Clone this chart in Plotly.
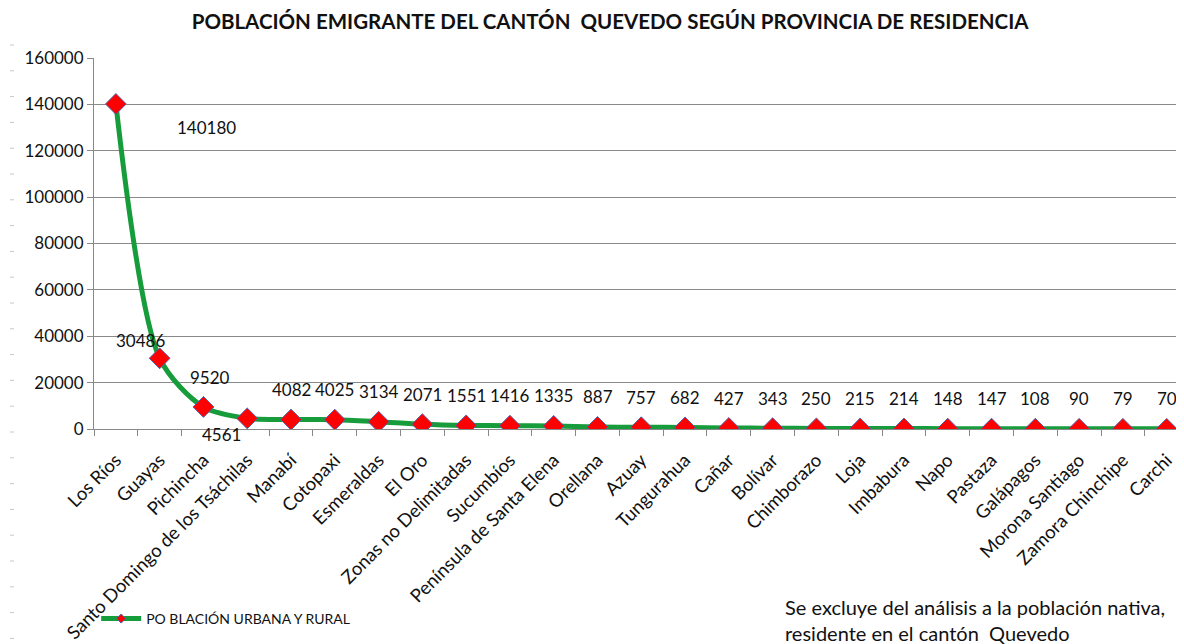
import plotly.graph_objects as go

provincias = ["Los Ríos", "Guayas", "Pichincha", "Santo Domingo de los Tsáchilas", "Manabí",
              "Cotopaxi", "Esmeraldas", "El Oro", "Zonas no Delimitadas", "Sucumbíos",
              "Península de Santa Elena", "Orellana", "Azuay", "Tungurahua", "Cañar",
              "Bolívar", "Chimborazo", "Loja", "Imbabura", "Napo", "Pastaza",
              "Galápagos", "Morona Santiago", "Zamora Chinchipe", "Carchi"]
poblacion = [140180, 30486, 9520, 4561, 4082, 4025, 3134, 2071, 1551, 1416, 1335, 887, 757,
             682, 427, 343, 250, 215, 214, 148, 147, 108, 90, 79, 70]
y_ticks = [0, 20000, 40000, 60000, 80000, 100000, 120000, 140000, 160000]

FONT = "Lato"
GREEN = "#169c3a"

fig = go.Figure()
fig.add_trace(go.Scatter(
    x=provincias, y=poblacion, mode="lines+markers", showlegend=False,
    line=dict(color=GREEN, width=5, shape="spline", smoothing=0.8),
    marker=dict(symbol="diamond", size=16, color="#ff0000",
                line=dict(color="#5060a8", width=1)),
))
# legend entry (smaller marker like the original legend key)
fig.add_trace(go.Scatter(
    x=[None], y=[None], mode="lines+markers", name="PO BLACIÓN URBANA Y RURAL",
    line=dict(color=GREEN, width=5),
    marker=dict(symbol="diamond", size=7, color="#ff0000",
                line=dict(color="#5060a8", width=1)),
))

# data labels (Excel-style offsets)
offsets = {0: (91, -24), 1: (-19, 18), 2: (7, 29), 3: (-26, -16)}
for i, (p, v) in enumerate(zip(provincias, poblacion)):
    dx, dy = offsets.get(i, (0, 30))
    fig.add_annotation(x=p, y=v, text=str(v), showarrow=False,
                       xshift=dx, yshift=dy, xanchor="center", yanchor="middle",
                       font=dict(family=FONT, size=17, color="#111"))

fig.add_annotation(xref="paper", yref="paper", x=0.633, y=-0.5146,
                   xanchor="left", yanchor="middle", align="left", showarrow=False,
                   text="Se excluye del análisis a la población nativa,<br>residente en el cantón  Quevedo",
                   font=dict(family=FONT, size=20, color="#111"))

# faint ruler marks along the left edge of the original page
PW, PH, L, T = 1088.0, 371.0, 86.0, 421.0
shapes = []
k = 0
while 45 + 25.8 * k < 644:
    py = 45 + 25.8 * k - 8
    yp = (T - py) / PH
    shapes.append(dict(type="line", xref="paper", yref="paper",
                       x0=(2 - L) / PW, x1=(6 - L) / PW, y0=yp, y1=yp,
                       line=dict(color="#c8c8c8", width=1)))
    k += 1

fig.update_layout(
    width=1176, height=636,
    margin=dict(l=86, r=2, t=50, b=215),
    paper_bgcolor="white", plot_bgcolor="white",
    title=dict(text="<b>POBLACIÓN EMIGRANTE DEL CANTÓN  QUEVEDO SEGÚN PROVINCIA DE RESIDENCIA</b>",
               x=0.512, xanchor="center", y=0.978, yanchor="middle",
               font=dict(family=FONT, size=20.5, color="#111")),
    showlegend=True,
    legend=dict(x=0.002, y=-0.512, xanchor="left", yanchor="middle",
                font=dict(family=FONT, size=14, color="#111"),
                bgcolor="rgba(0,0,0,0)", itemwidth=40),
    font=dict(family=FONT),
    shapes=shapes,
)
fig.update_xaxes(
    type="category", range=[-0.5, 24.35], tickangle=-45,
    tickfont=dict(family=FONT, size=18.5, color="#111"),
    showgrid=False, showline=True, linecolor="#888", linewidth=1,
    ticks="outside", tickson="boundaries", ticklen=6, tickcolor="#888",
    ticklabelstandoff=12,
)
fig.update_yaxes(
    range=[0, 160000], tickvals=y_ticks, tickformat="d",
    tickfont=dict(family=FONT, size=17, color="#111"),
    showgrid=True, gridcolor="#8a8a8a", gridwidth=1,
    showline=True, linecolor="#888", linewidth=1,
    ticks="outside", ticklen=6, tickcolor="#888", zeroline=False,
)

fig.write_html("out.html")
